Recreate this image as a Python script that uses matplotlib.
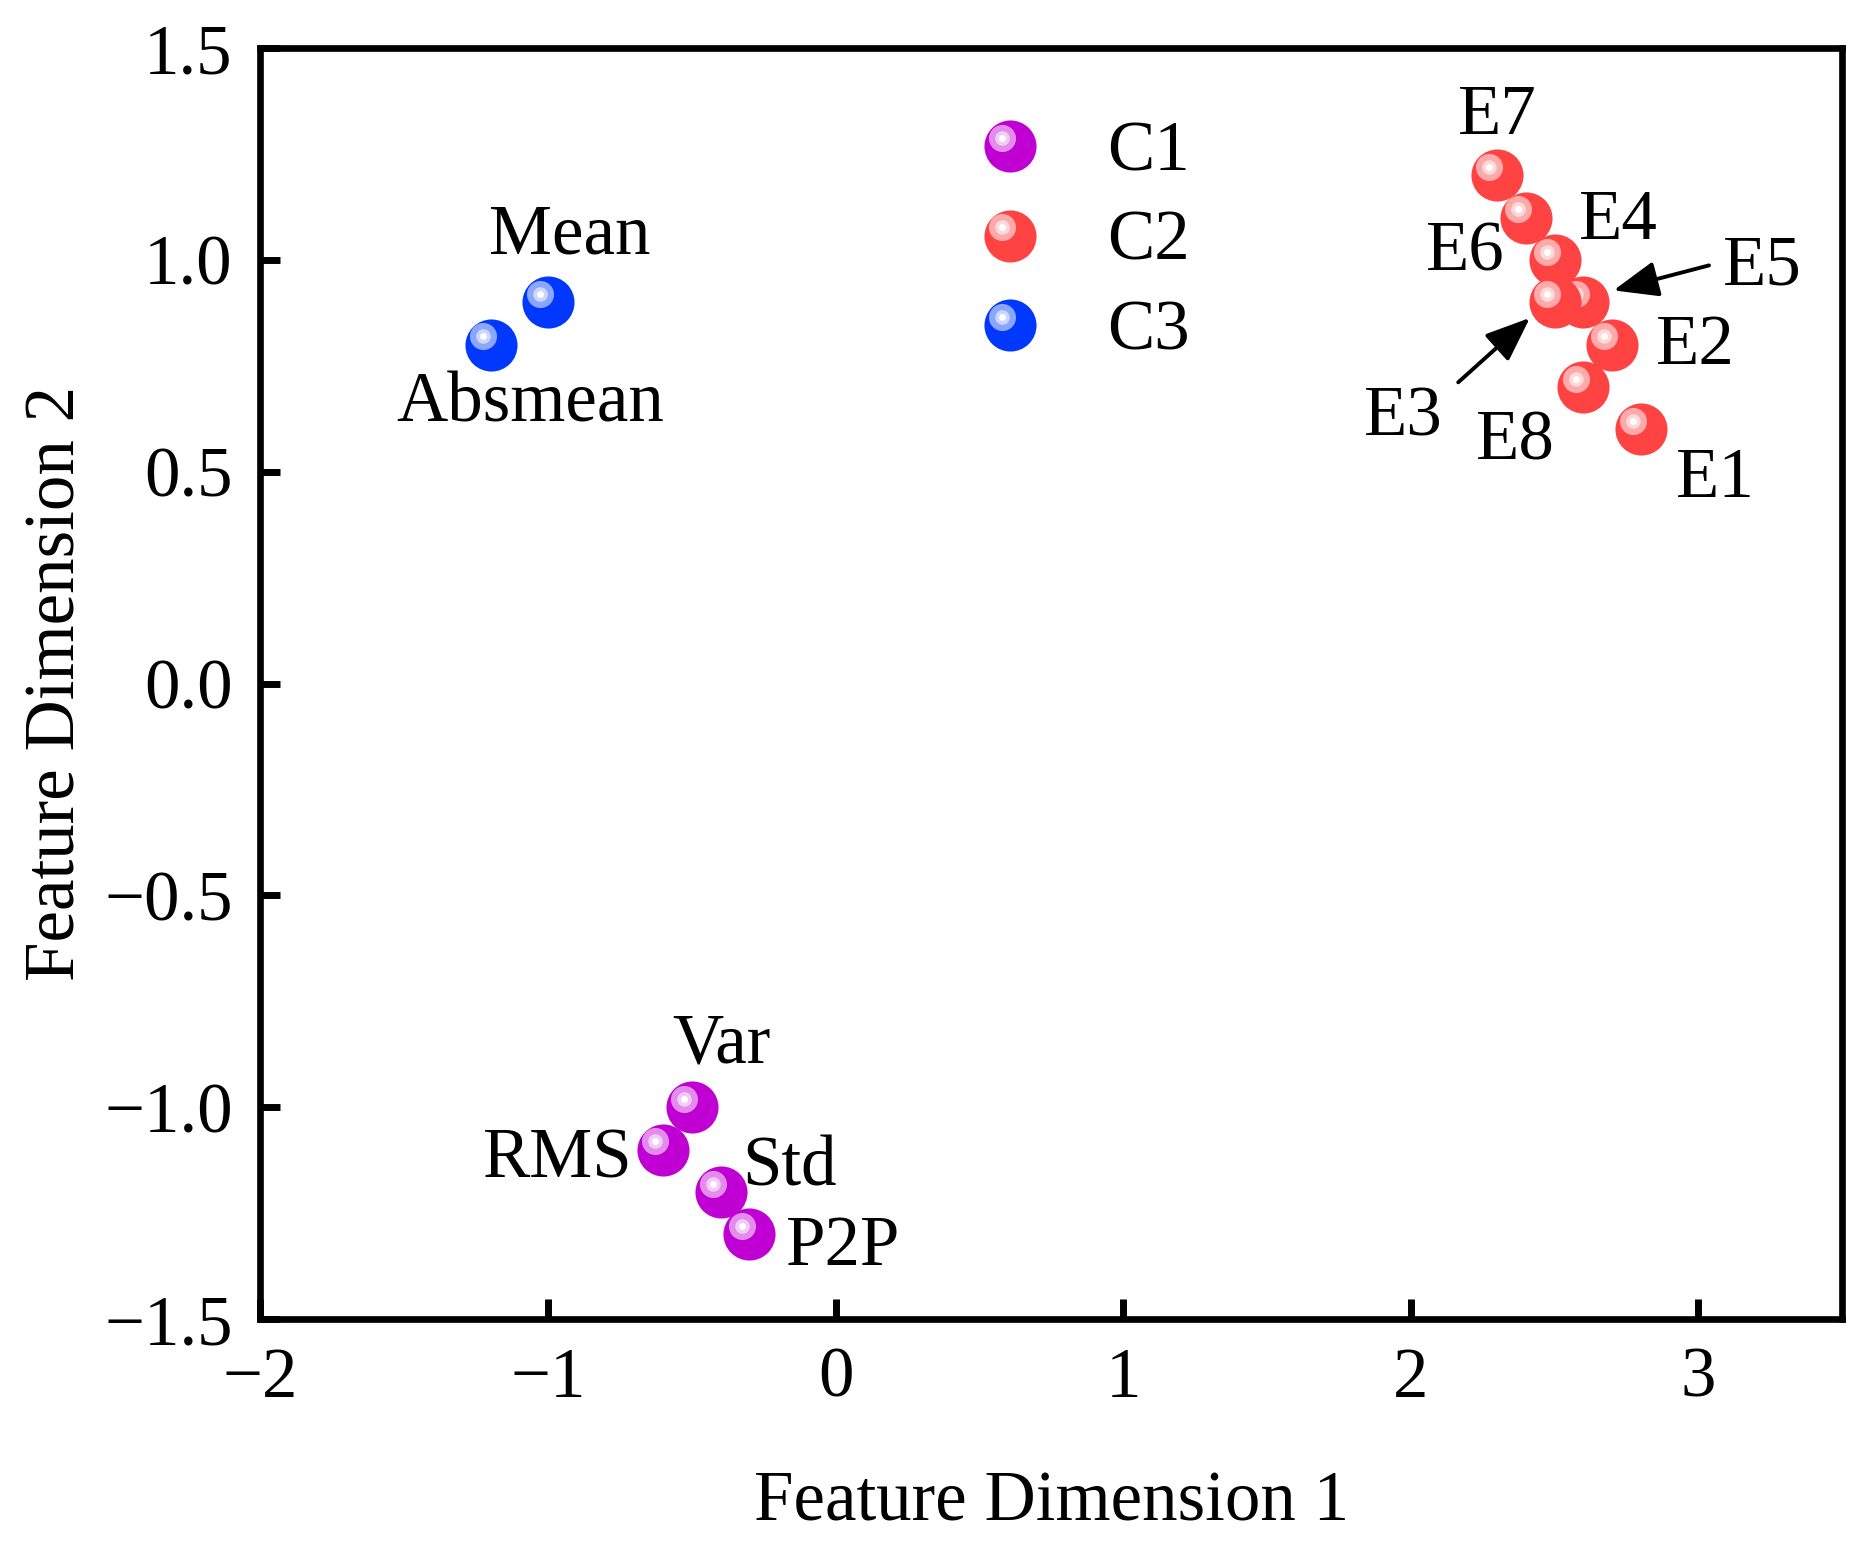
import matplotlib
matplotlib.use('Agg')
import matplotlib.pyplot as plt
from matplotlib.transforms import offset_copy
from matplotlib.lines import Line2D
from matplotlib.legend_handler import HandlerBase
import matplotlib.colors as mcolors
import numpy as np

plt.rcParams['font.family'] = ['Liberation Serif', 'DejaVu Serif']
plt.rcParams['axes.unicode_minus'] = True

# ---------------- data ----------------
c1_names = ['Var', 'RMS', 'Std', 'P2P']
c1_x = [-0.5, -0.6, -0.4, -0.3]
c1_y = [-1.0, -1.1, -1.2, -1.3]

c2_names = ['E1', 'E7', 'E6', 'E4', 'E5', 'E3', 'E2', 'E8']
c2_x = [2.8, 2.3, 2.4, 2.5, 2.6, 2.5, 2.7, 2.6]
c2_y = [0.6, 1.2, 1.1, 1.0, 0.9, 0.9, 0.8, 0.7]

c3_names = ['Mean', 'Absmean']
c3_x = [-1.0, -1.2]
c3_y = [0.9, 0.8]

cluster_labels = ['C1', 'C2', 'C3']
cluster_colors = ['#C000D2', '#FF4242', '#0038FF']

# label positions (text centre x, baseline y) in data units
label_pos = {
    'Mean': (-0.924, 1.016), 'Absmean': (-1.061, 0.619),
    'Var': (-0.397, -0.894), 'RMS': (-0.966, -1.167),
    'Std': (-0.160, -1.184), 'P2P': (0.027, -1.373),
    'E7': (2.302, 1.298), 'E6': (2.190, 0.974), 'E4': (2.722, 1.050),
    'E5': (3.224, 0.943), 'E2': (2.988, 0.754), 'E3': (1.974, 0.585),
    'E8': (2.365, 0.529), 'E1': (3.058, 0.441),
}
arrow_E5 = ((3.037, 0.987), (2.705, 0.928))   # tail, head
arrow_E3 = ((2.165, 0.711), (2.414, 0.863))

xticks = [-2, -1, 0, 1, 2, 3]
yticks = [-1.5, -1.0, -0.5, 0.0, 0.5, 1.0, 1.5]

FS = 51
BASE_MS = 37.5
# highlight layers: (dx pt, dy pt, size pt, white fraction)
LAYERS = [(-5.5, 6.0, 19.5, 0.55), (-5.5, 6.0, 10.5, 0.80), (-5.5, 6.0, 5.0, 1.0)]


def mix(color, f):
    c = np.array(mcolors.to_rgb(color))
    return tuple(c + (1 - c) * f)


fig = plt.figure(figsize=(18.74, 15.5), dpi=100)
ax = fig.add_axes([0.139, 0.149, 0.844, 0.820])


def sphere(x, y, color, z):
    ax.plot([x], [y], marker='o', markersize=BASE_MS, color=color,
            markeredgewidth=0, linestyle='none', zorder=z)
    for k, (dx, dy, ms, f) in enumerate(LAYERS):
        tr = offset_copy(ax.transData, fig=fig, x=dx, y=dy, units='points')
        ax.plot([x], [y], marker='o', markersize=ms, color=mix(color, f),
                markeredgewidth=0, linestyle='none', transform=tr,
                zorder=z + 0.1 * (k + 1))


z = 3
for names, xs, ys, col in [(c3_names, c3_x, c3_y, cluster_colors[2]),
                           (c1_names, c1_x, c1_y, cluster_colors[0]),
                           (c2_names, c2_x, c2_y, cluster_colors[1])]:
    for n, x, y in zip(names, xs, ys):
        sphere(x, y, col, z)
        z += 1
        lx, ly = label_pos[n]
        ax.text(lx, ly, n, fontsize=FS, ha='center', va='baseline', zorder=50)

for tail, head in [arrow_E5, arrow_E3]:
    ax.annotate('', xy=head, xytext=tail,
                arrowprops=dict(arrowstyle='-|>,head_length=0.55,head_width=0.22',
                                color='black', lw=2.8, mutation_scale=50,
                                shrinkA=0, shrinkB=0), zorder=60)


class SphereHandler(HandlerBase):
    def create_artists(self, legend, orig_handle, xdescent, ydescent,
                       width, height, fontsize, trans):
        color = orig_handle.get_color()
        cx = width / 2 - xdescent
        cy = height / 2 - ydescent
        arts = []
        l = Line2D([cx], [cy], marker='o', markersize=BASE_MS, color=color,
                   markeredgewidth=0, linestyle='none')
        l.set_transform(trans)
        arts.append(l)
        for dx, dy, ms, f in LAYERS:
            l = Line2D([cx + dx], [cy + dy], marker='o', markersize=ms,
                       color=mix(color, f), markeredgewidth=0, linestyle='none')
            l.set_transform(trans)
            arts.append(l)
        return arts


handles = [Line2D([], [], color=c, marker='o', linestyle='none') for c in cluster_colors]
leg = ax.legend(handles, cluster_labels, loc='upper left',
                bbox_to_anchor=(0.4513, 0.9476), frameon=False, fontsize=FS,
                handler_map={Line2D: SphereHandler()}, handlelength=1.0,
                handleheight=1.0, handletextpad=0.87, labelspacing=0.26,
                borderpad=0, borderaxespad=0)

ax.set_xlim(-2, 3.5)
ax.set_ylim(-1.5, 1.5)
ax.set_xticks(xticks)
ax.set_yticks(yticks)
ax.set_xticklabels([f'{t:d}'.replace('-', '\u2212') for t in xticks])
ax.set_yticklabels([f'{t:.1f}'.replace('-', '\u2212') for t in yticks])
ax.tick_params(axis='both', direction='in', length=14.5, width=5,
               labelsize=FS, pad=20, top=False, right=False)
for s in ax.spines.values():
    s.set_linewidth(4.8)

ax.set_xlabel('Feature Dimension 1', fontsize=FS, labelpad=42)
ax.set_ylabel('Feature Dimension 2', fontsize=FS, labelpad=10.5)

fig.savefig('out.png', dpi=100)
